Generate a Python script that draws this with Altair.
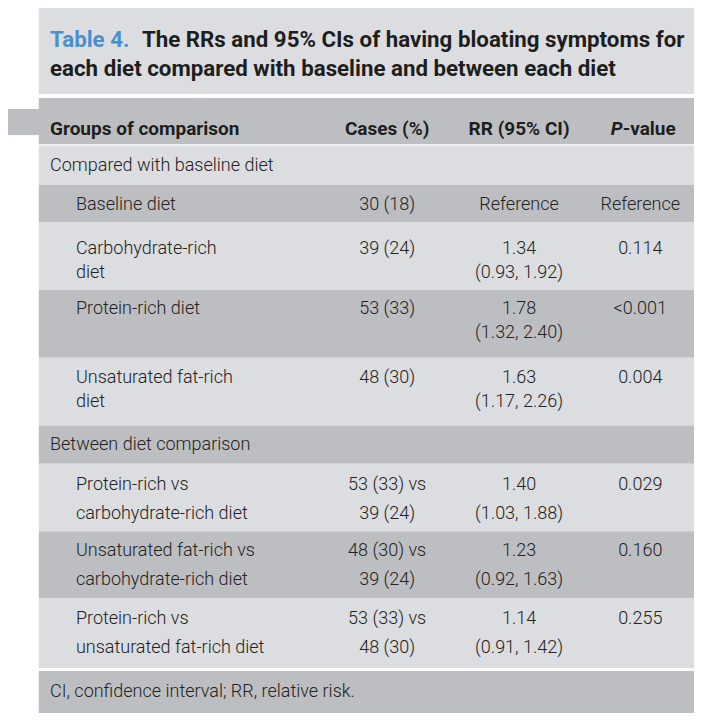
import altair as alt
import pandas as pd

# ---------------- data (text content of the table) ----------------
title_tag = "Table 4."
title_lines = [
    "The RRs and 95% CIs of having bloating symptoms for",
    "each diet compared with baseline and between each diet",
]
header_labels = ["Groups of comparison", "Cases (%)", "RR (95% CI)"]
header_p_italic = "P"
header_p_rest = "-value"

section_labels = ["Compared with baseline diet", "Between diet comparison"]

group1_labels = [["Baseline diet"], ["Carbohydrate-rich", "diet"],
                 ["Protein-rich diet"], ["Unsaturated fat-rich", "diet"]]
group1_cases = [["30 (18)"], ["39 (24)"], ["53 (33)"], ["48 (30)"]]
group1_rr = [["Reference"], ["1.34", "(0.93, 1.92)"],
             ["1.78", "(1.32, 2.40)"], ["1.63", "(1.17, 2.26)"]]
group1_p = ["Reference", "0.114", "<0.001", "0.004"]

group2_labels = [["Protein-rich vs", "carbohydrate-rich diet"],
                 ["Unsaturated fat-rich vs", "carbohydrate-rich diet"],
                 ["Protein-rich vs", "unsaturated fat-rich diet"]]
group2_cases = [["53 (33) vs", "39 (24)"], ["48 (30) vs", "39 (24)"],
                ["53 (33) vs", "48 (30)"]]
group2_rr = [["1.40", "(1.03, 1.88)"], ["1.23", "(0.92, 1.63)"],
             ["1.14", "(0.91, 1.42)"]]
group2_p = ["0.029", "0.160", "0.255"]

footnote = "CI, confidence interval; RR, relative risk."

# ---------------- layout / style (reference pixel space 702 x 721) ----------------
LIGHT = "#dcdde0"
DARK = "#bdbec1"
TEXT = "#222222"
HEAD = "#1e1e1e"
BLUE = "#4a8fcf"
FONT = "Roboto, Liberation Sans, sans-serif"
BODY = 18
HEADSZ = 19
TITLE = 22.3

REF_W, REF_H = 702, 721
TX0, TX1 = 31.5, 702          # table left / right edges
COL_LABEL = 43
COL_INDENT = 69.5
COL_CASES = 388
COL_RR = 523
COL_P = 647
P_SPLIT = 629
TITLE_TAG_END = 137

TITLE_BOTTOM = 88
TITLE_Y = [33, 62.5]
HEAD_TOP, HEAD_BOTTOM = 92, 139.4
HEAD_TEXT_Y = 123.5
BODY_TOP = 140.5
FOOT_TOP = 678
FOOT_TEXT_Y = 700

rects = []
texts = []  # (x, y, text, kind)

# title box
rects.append(dict(x=TX0, x2=TX1, y=0, y2=TITLE_BOTTOM, c=LIGHT))
texts.append((COL_LABEL, TITLE_Y[0], title_tag, "title_blue"))
texts.append((TITLE_TAG_END, TITLE_Y[0], title_lines[0], "title"))
texts.append((COL_LABEL, TITLE_Y[1], title_lines[1], "title"))

# header band + left tab
rects.append(dict(x=TX0, x2=TX1, y=HEAD_TOP, y2=HEAD_BOTTOM, c=DARK))
rects.append(dict(x=0, x2=TX0 + 1, y=103.3, y2=130, c=DARK))
texts.append((COL_LABEL, HEAD_TEXT_Y, header_labels[0], "head_left"))
texts.append((COL_CASES, HEAD_TEXT_Y, header_labels[1], "head_center"))
texts.append((COL_RR, HEAD_TEXT_Y, header_labels[2], "head_center"))
texts.append((P_SPLIT, HEAD_TEXT_Y, header_p_italic, "head_italic"))
texts.append((P_SPLIT, HEAD_TEXT_Y, header_p_rest, "head_rest"))

# body rows: heights, first-line offsets and line spacing per group
row_heights_1 = [38.6, 69.0, 69.4, 69.3]
first_off_1 = [None, 27.2, 19.7, 20.3]
row_heights_2 = [69.0, 68.5, 71.5]
first_off_2 = [21.5, 20.5, 21.5]
section_h = [40.2, 39.0]
LINE_H1 = 24.5
LINE_H2 = 29.5

state = {"y": BODY_TOP, "i": 0}
shade = [LIGHT, DARK]


def add_group(sec_label, sec_h, labels, cases, rr, pv, heights, offs, line_h):
    y = state["y"]
    rects.append(dict(x=TX0, x2=TX1, y=y, y2=y + sec_h, c=shade[state["i"] % 2]))
    texts.append((COL_LABEL, y + sec_h / 2 + 0.8, sec_label, "left"))
    y += sec_h
    state["i"] += 1
    for lab, cs, r, p, h, off in zip(labels, cases, rr, pv, heights, offs):
        rects.append(dict(x=TX0, x2=TX1, y=y, y2=y + h, c=shade[state["i"] % 2]))
        first = y + h / 2 + 1 if off is None else y + off
        for k, t in enumerate(lab):
            texts.append((COL_INDENT, first + k * line_h, t, "left"))
        for k, t in enumerate(cs):
            texts.append((COL_CASES, first + k * line_h, t, "center"))
        for k, t in enumerate(r):
            texts.append((COL_RR, first + k * line_h, t, "center"))
        texts.append((COL_P, first, p, "center"))
        y += h
        state["i"] += 1
    state["y"] = y


add_group(section_labels[0], section_h[0], group1_labels, group1_cases,
          group1_rr, group1_p, row_heights_1, first_off_1, LINE_H1)
add_group(section_labels[1], section_h[1], group2_labels, group2_cases,
          group2_rr, group2_p, row_heights_2, first_off_2, LINE_H2)

# footnote
rects.append(dict(x=TX0, x2=TX1, y=FOOT_TOP, y2=REF_H, c=DARK))
texts.append((COL_LABEL, FOOT_TEXT_Y, footnote, "left"))

rect_df = pd.DataFrame(rects)
text_df = pd.DataFrame(texts, columns=["x", "y", "t", "kind"])

# the page has an 8px margin: fit the reference space into 686 x 705
W, H = 686, 705
xs = alt.Scale(domain=[0, REF_W], nice=False, zero=False, clamp=True)
ys = alt.Scale(domain=[0, REF_H], nice=False, zero=False, clamp=True, reverse=True)

base_rect = alt.Chart(rect_df).mark_rect(strokeWidth=0).encode(
    x=alt.X("x:Q", scale=xs, axis=None),
    x2="x2:Q",
    y=alt.Y("y:Q", scale=ys, axis=None),
    y2="y2:Q",
    color=alt.Color("c:N", scale=None),
)


def tlayer(kind, **kw):
    props = dict(font=FONT, fontSize=BODY, color=TEXT, baseline="middle",
                 fontWeight=300)
    props.update(kw)
    return alt.Chart(text_df).transform_filter(
        alt.datum.kind == kind
    ).mark_text(**props).encode(
        x=alt.X("x:Q", scale=xs, axis=None),
        y=alt.Y("y:Q", scale=ys, axis=None),
        text="t:N",
    )


layers = [
    base_rect,
    tlayer("title_blue", align="left", fontSize=TITLE, fontWeight="bold", color=BLUE),
    tlayer("title", align="left", fontSize=TITLE, fontWeight="bold", color=HEAD),
    tlayer("head_left", align="left", fontSize=HEADSZ, fontWeight="bold", color=HEAD),
    tlayer("head_center", align="center", fontSize=HEADSZ, fontWeight="bold", color=HEAD),
    tlayer("head_italic", align="right", fontSize=HEADSZ, fontWeight="bold",
           fontStyle="italic", color=HEAD),
    tlayer("head_rest", align="left", fontSize=HEADSZ, fontWeight="bold", color=HEAD),
    tlayer("left", align="left"),
    tlayer("center", align="center"),
]

chart = alt.layer(*layers).properties(
    width=W, height=H, padding=0,
    autosize=alt.AutoSizeParams(type="none"),
    background="white",
).configure_view(stroke=None)

chart.save("out.html", embed_options={"renderer": "svg", "actions": False})
